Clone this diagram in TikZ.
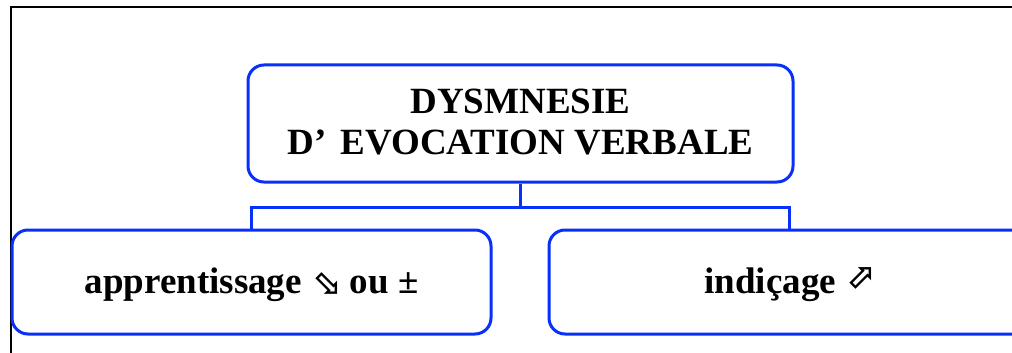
\documentclass[tikz,border=0pt]{standalone}
\usepackage{fontspec}
\setmainfont{Liberation Serif}
\newfontfamily\arrowfont{DejaVu Sans}
\definecolor{boxblue}{RGB}{8,48,250}
\tikzset{
  box/.style={draw=boxblue, line width=3pt, rounded corners=16pt,
    font=\bfseries\fontsize{37}{41}\selectfont, align=center, inner sep=0pt},
  link/.style={draw=boxblue, line width=3pt},
}
\newcommand{\flechebas}{{\arrowfont\fontsize{35}{35}\selectfont ⬂}}
\newcommand{\flechehaut}{\raisebox{5pt}{\arrowfont\fontsize{35}{35}\selectfont ⬀}}
\begin{document}
\begin{tikzpicture}[x=1pt, y=-1pt]
  \useasboundingbox (0,0) rectangle (1012,353);

  % cadre
  \draw[black, line width=1.4pt] (11,360) -- (11,7) -- (1020,7);

  % boites
  \node[box, minimum width=545pt, minimum height=117pt, text depth=4pt] (dysm) at (520.5,123.5)
    {DYSMNESIE\\D’\hspace{14pt}EVOCATION VERBALE};
  \node[box, minimum width=479pt, minimum height=104pt, text depth=2pt] (appr) at (251.5,282)
    {apprentissage \flechebas\ ou ±};
  \node[box, minimum width=481pt, minimum height=104pt, text depth=2pt] (indi) at (789.5,282)
    {indiçage \flechehaut};

  % liaisons
  \draw[link] (dysm.south) -- ++(0,24) -| (appr.north);
  \draw[link] (dysm.south) -- ++(0,24) -| (indi.north);

\end{tikzpicture}
\end{document}
